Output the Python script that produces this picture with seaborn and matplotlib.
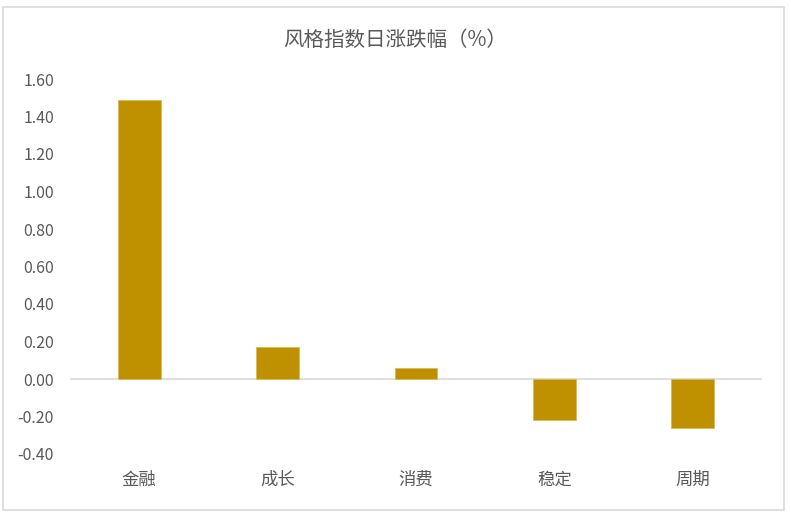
import matplotlib
matplotlib.use("Agg")
import matplotlib.pyplot as plt
import seaborn as sns
import pandas as pd
from matplotlib.patches import Rectangle

categories = ["金融", "成长", "消费", "稳定", "周期"]
values = [1.49, 0.17, 0.06, -0.22, -0.26]
yticks = [-0.40, -0.20, 0.00, 0.20, 0.40, 0.60, 0.80, 1.00, 1.20, 1.40, 1.60]
title = "风格指数日涨跌幅（%）"

sns.set_theme(style="white")
plt.rcParams['font.family'] = ['Noto Sans CJK SC', 'DejaVu Sans']

df = pd.DataFrame({"cat": categories, "val": values})

fig = plt.figure(figsize=(7.91, 5.17), dpi=100)
ax = fig.add_axes([70/791, 1-454/517, (762-70)/791, (454-79)/517])

sns.barplot(data=df, x="cat", y="val", color="#BF9000", width=0.31,
            saturation=1, ax=ax, edgecolor="#D9B95A", linewidth=0.6)

ax.set_ylim(-0.4, 1.6)
ax.set_yticks(yticks)
ax.set_yticklabels([f"{t:.2f}" for t in yticks])
ax.set_xlabel("")
ax.set_ylabel("")
for s in ax.spines.values():
    s.set_visible(False)
ax.axhline(0, color="#D9D9D9", linewidth=1.2, zorder=0)
ax.tick_params(axis="y", length=0, pad=11.5, labelsize=11.5, labelcolor="#595959")
ax.tick_params(axis="x", length=0, pad=12, labelsize=12.5, labelcolor="#595959")
ax.set_xlim(-0.5, 4.5)

fig.text(0.5, 1-40/517, title, ha="center", va="center", fontsize=14.8, color="#595959")

fig.patches.append(Rectangle((3/791, 7/517), (784-3)/791, (510-7)/517,
                             transform=fig.transFigure, fill=False,
                             edgecolor="#D9D9D9", linewidth=1.2))

fig.savefig("out.png", dpi=100)
